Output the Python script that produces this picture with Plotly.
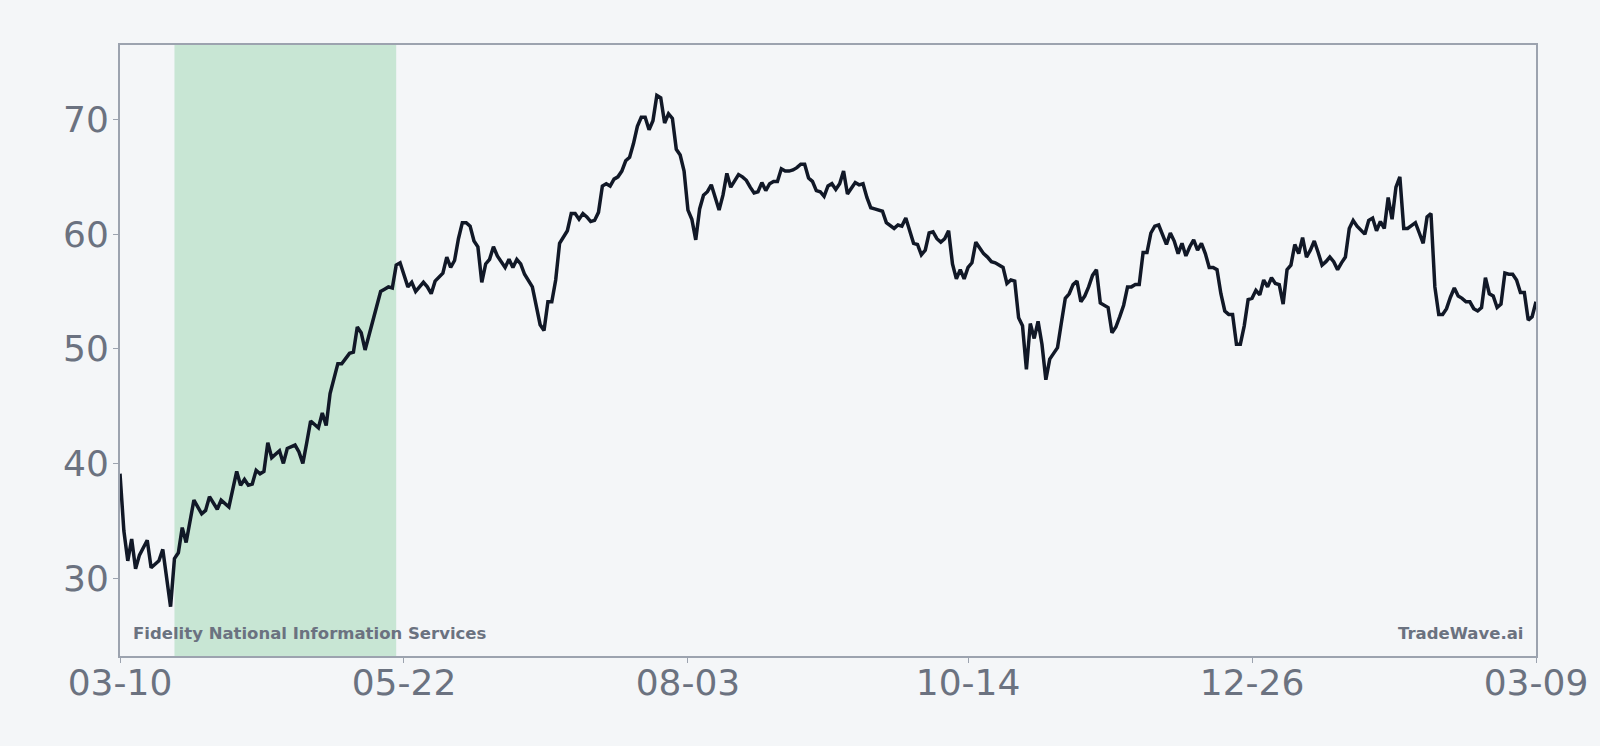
import pandas as pd
import plotly.graph_objects as go

# ---- data ----
start_date = "2024-03-10"
day_offsets = [0,1,2,3,4,5,7,8,10,11,13,14,15,16,17,19,21,22,23,25,26,28,30,31,32,33,34,35,36,37,38,39,41,42,43,45,46,47,48,49,
               51,52,53,54,56,57,59,60,61,62,63,65,66,67,68,69,70,71,72,73,74,75,76,77,78,79,80,81,83,84,85,86,87,88,89,90,
               91,92,93,94,95,96,97,99,100,101,102,103,104,106,107,108,109,110,111,112,113,115,116,117,118,119,120,121,122,
               123,124,125,126,127,128,129,130,131,132,133,134,135,136,137,138,139,140,141,142,143,144,145,146,147,148,149,
               150,151,152,153,154,155,156,157,158,159,160,161,162,163,164,165,166,167,168,169,170,171,172,173,174,175,176,
               177,178,179,180,181,182,183,184,185,186,187,188,189,190,191,192,193,194,195,196,197,198,199,200,201,202,203,
               204,205,206,207,208,209,210,211,212,213,214,215,216,217,218,219,220,221,222,223,224,225,226,227,228,229,230,
               231,232,233,234,235,236,237,238,239,240,241,242,243,244,245,246,247,248,249,250,251,252,253,254,255,256,257,
               258,259,260,261,262,263,264,265,266,267,268,269,270,271,272,273,274,275,276,277,278,279,280,281,282,283,284,
               285,286,287,288,289,290,291,292,293,294,295,296,297,298,299,300,301,302,303,304,305,306,307,308,309,310,311,
               312,313,314,315,316,317,318,319,320,321,322,323,324,325,326,327,328,329,330,331,332,333,334,335,336,337,338,
               339,340,341,342,343,344,345,346,347,348,349,350,351,352,353,354,355,356,357,358,359,360,361,362,363,364]
prices = [39.1,34.1,31.5,33.4,30.8,32.0,33.3,30.9,31.5,32.5,27.5,31.7,32.2,34.4,33.1,36.8,35.6,35.9,37.1,36.0,36.8,36.2,39.3,38.1,
          38.6,38.1,38.2,39.4,39.1,39.3,41.8,40.5,41.1,40.0,41.3,41.6,41.0,40.0,41.8,43.7,
          43.1,44.4,43.3,46.1,48.7,48.7,49.6,49.7,51.9,51.4,49.9,52.5,53.5,55.0,55.2,55.4,55.3,57.3,57.5,56.5,55.4,55.8,
          55.0,55.4,55.8,55.4,54.8,55.9,56.6,58.0,57.1,57.7,59.6,61.0,61.0,60.7,
          59.4,58.9,55.8,57.4,57.8,58.9,58.1,57.1,57.8,57.1,57.8,57.4,56.5,55.4,53.6,52.1,51.6,54.1,54.1,56.0,59.2,60.3,
          61.8,61.8,61.3,61.8,61.5,61.1,61.2,
          61.9,64.2,64.4,64.2,64.8,65.0,65.5,66.4,66.7,67.9,69.4,70.2,70.2,69.1,69.9,72.1,71.9,69.7,70.5,70.1,67.4,66.9,
          65.5,62.1,61.3,59.5,62.2,
          63.4,63.7,64.3,63.1,62.1,63.4,65.3,64.1,64.6,65.2,65.0,64.7,64.1,63.6,63.7,64.5,63.8,64.4,64.6,64.6,65.7,65.5,
          65.5,65.6,65.8,66.1,66.1,
          64.9,64.6,63.8,63.7,63.3,64.2,64.4,63.9,64.4,65.5,63.5,64.0,64.5,64.3,64.4,63.2,62.3,62.2,62.1,62.0,61.0,60.7,
          60.5,60.8,60.7,61.4,60.2,
          59.2,59.1,58.2,58.6,60.1,60.2,59.6,59.3,59.6,60.3,57.4,56.1,56.9,56.1,57.1,57.5,59.3,58.8,58.3,58.0,57.6,57.5,
          57.3,57.1,55.7,56.0,55.9,
          52.7,52.0,48.2,52.2,50.9,52.4,50.4,47.3,49.1,49.6,50.1,52.3,54.4,54.8,55.6,55.9,54.1,54.6,55.4,56.4,56.9,54.0,
          53.8,53.6,51.4,51.9,52.8,
          53.8,55.4,55.4,55.6,55.6,58.4,58.4,60.1,60.7,60.8,60.0,59.1,60.1,59.4,58.3,59.2,58.1,58.9,59.5,58.6,59.2,58.3,
          57.1,57.1,56.9,54.8,53.3,
          53.0,53.0,50.4,50.4,52.0,54.3,54.4,55.1,54.7,56.0,55.4,56.2,55.7,55.6,53.9,56.9,57.3,59.1,58.3,59.7,58.0,58.6,
          59.4,58.4,57.3,57.6,58.0,
          57.6,56.9,57.5,58.0,60.5,61.2,60.7,60.3,60.0,61.2,61.4,60.3,61.1,60.5,63.2,61.3,64.1,65.0,60.5,60.5,60.8,61.0,
          60.1,59.2,61.5,61.8,55.4,
          53.0,53.0,53.5,54.5,55.3,54.6,54.4,54.1,54.1,53.5,53.3,53.6,56.2,54.8,54.6,53.6,53.9,56.6,56.5,56.5,56.0,54.9,
          54.9,52.5,52.8,54.1]

shade_start = "2024-03-24"
shade_end = "2024-05-20"

tick_dates = ["2024-03-10", "2024-05-22", "2024-08-03", "2024-10-14", "2024-12-26", "2025-03-09"]
tick_labels = ["03-10", "05-22", "08-03", "10-14", "12-26", "03-09"]
y_ticks = [30, 40, 50, 60, 70]

company = "Fidelity National Information Services"
brand = "TradeWave.ai"

# ---- figure ----
dates = pd.Timestamp(start_date) + pd.to_timedelta(day_offsets, unit="D")

BG = "#f4f6f8"
GRAY = "#6b7280"
BORDER = "#9ca3af"

fig = go.Figure()
fig.add_vrect(x0=shade_start, x1=shade_end, fillcolor="#c8e6d4", opacity=1,
              line_width=0, layer="below")
fig.add_trace(go.Scatter(x=dates, y=prices, mode="lines",
                         line=dict(color="#111827", width=3.5), hoverinfo="skip"))

fig.update_layout(
    width=1600, height=746,
    paper_bgcolor=BG, plot_bgcolor=BG,
    margin=dict(l=120, r=64, t=45, b=90),
    showlegend=False,
    font=dict(family="DejaVu Sans", color=GRAY),
)
fig.update_xaxes(
    type="date", range=[tick_dates[0], tick_dates[-1]],
    tickvals=tick_dates, ticktext=tick_labels,
    tickfont=dict(size=36, color=GRAY),
    showgrid=False, zeroline=False,
    showline=True, linecolor=BORDER, linewidth=2, mirror=True,
    ticks="outside", ticklen=5, tickcolor=BORDER, tickwidth=1,
    ticklabelstandoff=-11,
)
fig.update_yaxes(
    range=[23.2, 76.5], tickvals=y_ticks,
    tickfont=dict(size=36, color=GRAY),
    showgrid=False, zeroline=False,
    showline=True, linecolor=BORDER, linewidth=2, mirror=True,
    ticks="outside", ticklen=5, tickcolor=BORDER, tickwidth=1,
    ticklabelstandoff=-3,
)
fig.add_annotation(text=f"<b>{company}</b>", xref="paper", yref="paper",
                   x=0.008, y=0.018, xanchor="left", yanchor="bottom",
                   showarrow=False, font=dict(size=16.5, color=GRAY, family="DejaVu Sans"))
fig.add_annotation(text=f"<b>{brand}</b>", xref="paper", yref="paper",
                   x=0.992, y=0.018, xanchor="right", yanchor="bottom",
                   showarrow=False, font=dict(size=16.5, color=GRAY, family="DejaVu Sans"))

fig.write_html("out.html")
